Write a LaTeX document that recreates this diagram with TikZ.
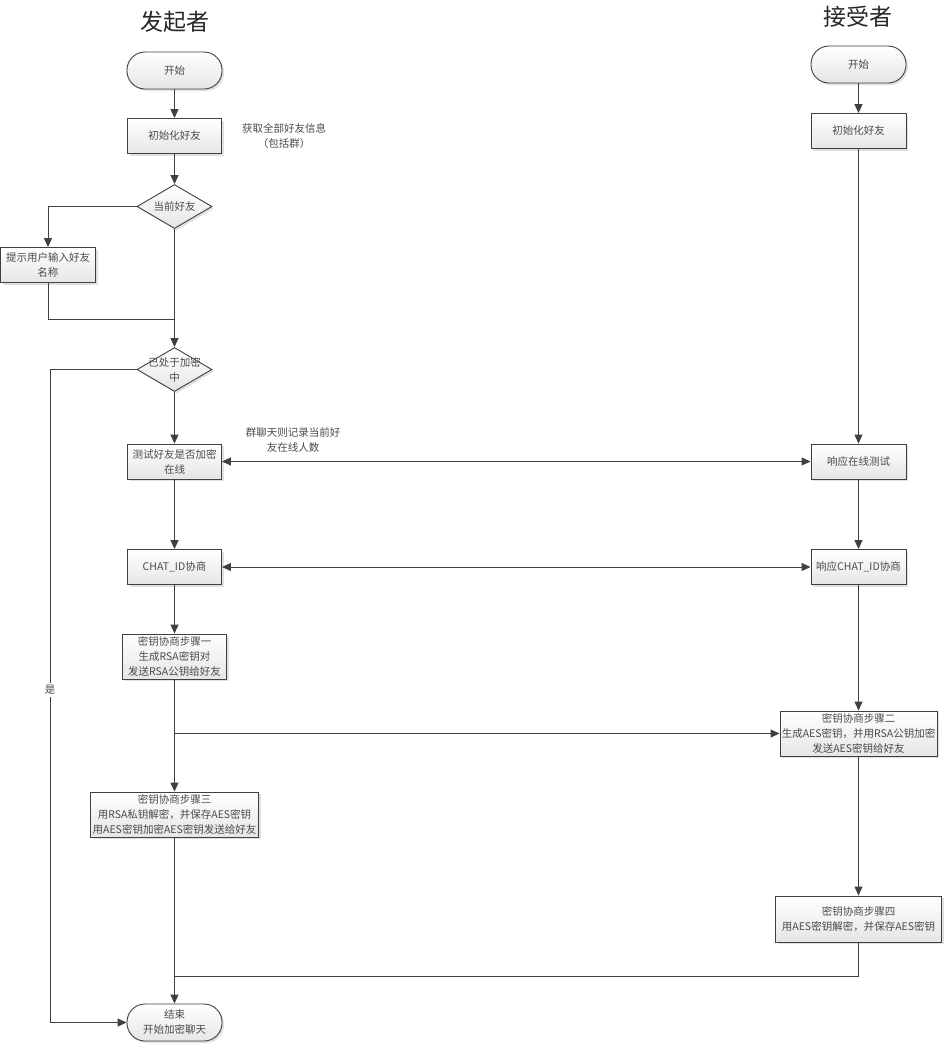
\documentclass[tikz,border=0pt]{standalone}
\usepackage{fontspec}
\setmainfont{Noto Sans CJK SC}
\usetikzlibrary{arrows.meta,shapes.geometric,shadows}
\definecolor{ln}{HTML}{404040}
\definecolor{tx}{HTML}{4A4A4A}
\begin{document}
\begin{tikzpicture}[x=1pt,y=-1pt,
  every node/.style={font=\fontsize{10.5}{15}\selectfont, text=tx, inner sep=0pt, align=center},
  boxshade/.style={draw=ln, line width=0.9pt, top color=white, bottom color=black!10,
     drop shadow={shadow xshift=2pt,shadow yshift=-2pt,fill=black!12,opacity=1}},
  procbox/.style={boxshade, rectangle, minimum height=35pt},
  termbox/.style={boxshade, rectangle, rounded corners=18pt, minimum width=95pt, minimum height=37pt},
  decbox/.style={boxshade, diamond, minimum width=75pt, minimum height=44pt},
  titletxt/.style={font=\fontsize{23}{26}\selectfont, text=black!85},
  conn/.style={draw=ln, line width=1pt},
  arr/.style={conn, -{Triangle[length=9pt,width=8pt]}},
  darr/.style={conn, {Triangle[length=9pt,width=8pt]}-{Triangle[length=9pt,width=8pt]}}
]
\useasboundingbox (0,0) rectangle (945,1045);

% titles
\node[titletxt] (t1) at (175,22) {发起者};
\node[titletxt] (t2) at (858,17) {接受者};

% left column
\node[termbox] (ls) at (174.5,70.5) {开始};
\node[procbox, minimum width=94pt] (li) at (174.5,136) {初始化好友};
\node (note1) at (284,136) {获取全部好友信息\\（包括群）};
\node[decbox] (d1) at (174.5,206.5) {};
\node at (d1) {当前好友};
\node[procbox, minimum width=95pt] (hint) at (48,265) {提示用户输入好友\\名称};
\coordinate (j1) at (174.5,319);
\node[decbox] (d2) at (174.5,369.5) {};
\node at (d2) {已处于加密\\中};
\node[procbox, minimum width=94pt] (test) at (174.5,461.5) {测试好友是否加密\\在线};
\node (note2) at (293,440) {群聊天则记录当前好\\友在线人数};
\node[procbox, minimum width=94pt] (chat) at (174.5,567) {CHAT\_ID协商};
\node[procbox, minimum width=104pt, minimum height=45pt] (s1) at (174.5,656.5) {密钥协商步骤一\\生成RSA密钥对\\发送RSA公钥给好友};
\node[procbox, minimum width=168pt, minimum height=45pt] (s3) at (174.5,814.5) {密钥协商步骤三\\用RSA私钥解密，并保存AES密钥\\用AES密钥加密AES密钥发送给好友};
\node[termbox] (end) at (174.5,1022.5) {结束\\开始加密聊天};

% right column
\node[termbox] (rs) at (858.5,64.5) {开始};
\node[procbox, minimum width=95pt] (ri) at (858.5,131) {初始化好友};
\node[procbox, minimum width=95pt] (rtest) at (858.5,461.5) {响应在线测试};
\node[procbox, minimum width=95pt] (rchat) at (858.5,567) {响应CHAT\_ID协商};
\node[procbox, minimum width=157pt, minimum height=45pt] (s2) at (858.5,733.5) {密钥协商步骤二\\生成AES密钥，并用RSA公钥加密\\发送AES密钥给好友};
\node[procbox, minimum width=166pt, minimum height=46pt] (s4) at (858.5,919) {密钥协商步骤四\\用AES密钥解密，并保存AES密钥};
\coordinate (j2) at (174.5,976);
\coordinate (yl) at (50,1022.5);

% connectors left
\draw[arr] (ls) -- (li);
\draw[arr] (li) -- (d1);
\draw[arr] (d1.west) -| (hint.north);
\draw[conn] (hint.south) |- (j1);
\draw[arr] (d1.south) -- (d2.north);
\draw[arr] (d2.west) -| (yl) -- (end.west);
\draw[arr] (d2.south) -- (test.north);
\draw[arr] (test) -- (chat);
\draw[arr] (chat) -- (s1);
\draw[arr] (s1) -- (s3);
\draw[arr] (s1.south |- s2.west) -- (s2.west);
\draw[arr] (s3) -- (end);

% connectors right
\draw[arr] (rs) -- (ri);
\draw[arr] (ri) -- (rtest);
\draw[arr] (rtest) -- (rchat);
\draw[arr] (rchat) -- (s2);
\draw[arr] (s2) -- (s4);
\draw[conn] (s4.south) |- (j2);

% cross connectors
\draw[darr] (test.east) -- (rtest.west);
\draw[darr] (chat.east) -- (rchat.west);

\node[fill=white, inner sep=2pt] (yes) at (50,690) {是};
\end{tikzpicture}
\end{document}
